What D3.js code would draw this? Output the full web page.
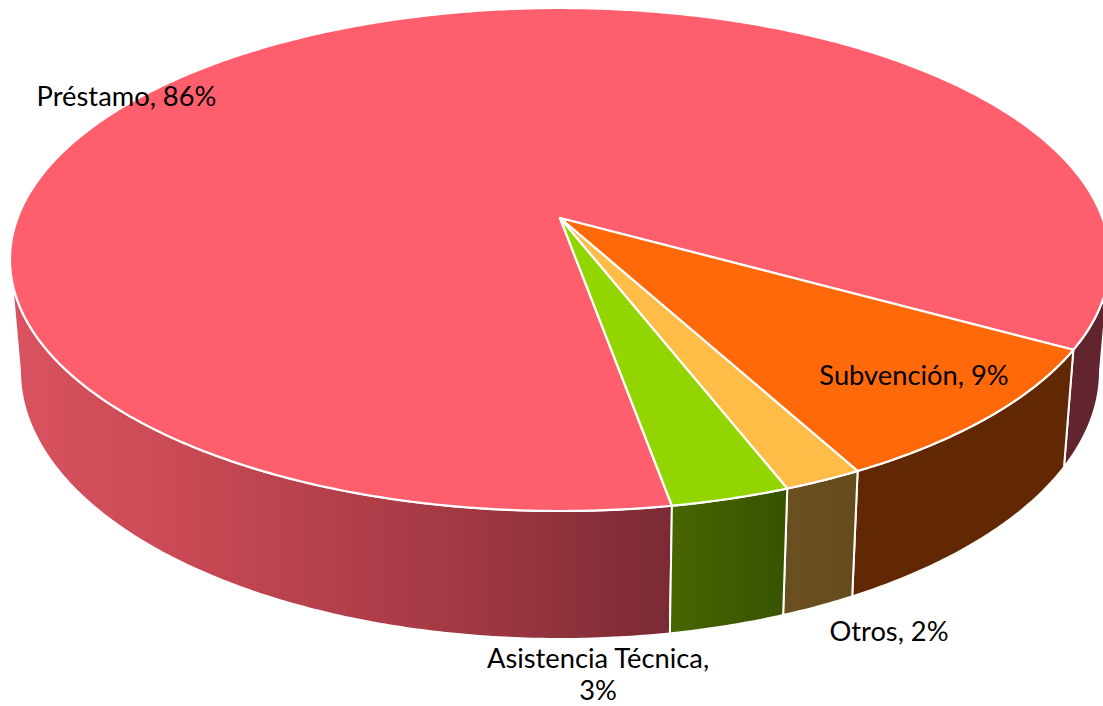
<!DOCTYPE html>
<html>
<head>
<meta charset="utf-8">
<script src="https://cdn.jsdelivr.net/npm/d3@7"></script>
<style>
    html, body { margin: 0; background: #fff; overflow: hidden; }
    text { font-family: Lato, "Open Sans", sans-serif; font-size: 27.3px; fill: #000; }
</style>
</head>
<body>
<svg width="1103" height="706"></svg>
<script>
const categories = ["Préstamo", "Subvención", "Otros", "Asistencia Técnica"];
const values = [86, 9, 2, 3];
const topColors = ["#ff5e6c", "#ff690a", "#ffbc47", "#92d500"];
const wallColors = [
    ["#da5260", "#c94a55", "#b33f4a", "#9a3640", "#7a2a33"],
    ["#622804", "#622804"],
    ["#6a5020", "#644c1c"],
    ["#486600", "#375300"],
];
const sliverColor = "#62242e";

// label anchors, one per category
const labelX = [126.5, 914, 889, 598];
const labelY = [105.5, 384.5, 641, 668];

const lineHeight = 32;

// perspective: the pie centre does not sit at the centre of the ellipse
const tilt = -0.165;
const firstAngle = 170.05 * Math.PI / 180;
const step = Math.PI / 360;

// where the side of the drum leaves the top ellipse, left and right
const leftEdge = 260.5 * Math.PI / 180;
const rightEdge = 99.5 * Math.PI / 180;

const xTop = d3.scaleLinear().domain([-1, 1]).range([10, 1110]);
const yTop = d3.scaleLinear().domain([-1, 1]).range([8, 511]);
const xBottom = d3.scaleLinear().domain([-1, 1]).range([20, 1100]);
const yBottom = d3.scaleLinear().domain([-1, 1]).range([103, 639]);

const svg = d3.select("svg");

const pie = d3.pie()
    .sort(null)
    .startAngle(firstAngle)
    .endAngle(firstAngle + 2 * Math.PI);

const slices = pie(values);

function project(angle) {
    const u = Math.sin(angle);
    const v = -Math.cos(angle);
    const d = 1 + tilt * v;
    return [u * Math.sqrt(1 - tilt * tilt) / d, (v + tilt) / d];
}

const topPoint = a => { const p = project(a); return [xTop(p[0]), yTop(p[1])]; };
const bottomPoint = a => { const p = project(a); return [xBottom(p[0]), yBottom(p[1])]; };
const line = d3.line();

const arcAngles = (a0, a1) => d3.range(a0, a1, step).concat([a1]);

function wallPath(a0, a1) {
    const angles = arcAngles(a0, a1);
    return line(angles.map(topPoint).concat(angles.slice().reverse().map(bottomPoint))) + "Z";
}

const defs = svg.append("defs");
wallColors.forEach((colors, i) => {
    const g = defs.append("linearGradient").attr("id", "wall" + i);
    colors.forEach((c, j) => {
        g.append("stop").attr("offset", j / (colors.length - 1)).attr("stop-color", c);
    });
});

// walls: the big slice wraps behind the pie, so only its two visible ends get drawn
const walls = [];
slices.forEach((d, i) => {
    if (i === 0) {
        walls.push({ a0: d.startAngle, a1: leftEdge, fill: "url(#wall0)" });
        walls.push({ a0: rightEdge + 2 * Math.PI, a1: d.endAngle, fill: sliverColor });
    } else {
        walls.push({ a0: d.startAngle, a1: d.endAngle, fill: `url(#wall${i})` });
    }
});

svg.selectAll("path.wall")
    .data(walls)
    .enter()
    .append("path")
    .attr("class", "wall")
    .attr("d", d => wallPath(d.a0, d.a1))
    .attr("fill", d => d.fill)
    .attr("stroke", "#fff")
    .attr("stroke-width", 2)
    .attr("stroke-linejoin", "round");

svg.selectAll("path.slice")
    .data(slices)
    .enter()
    .append("path")
    .attr("class", "slice")
    .attr("d", d => {
        const centre = [xTop(0), yTop(tilt)];
        return line([centre].concat(arcAngles(d.startAngle, d.endAngle).map(topPoint))) + "Z";
    })
    .attr("fill", (d, i) => topColors[i])
    .attr("stroke", "#fff")
    .attr("stroke-width", 2.2)
    .attr("stroke-linejoin", "round");

const labels = svg.selectAll("text.label")
    .data(categories)
    .enter()
    .append("text")
    .attr("class", "label")
    .attr("text-anchor", "middle")
    .attr("x", (d, i) => labelX[i])
    .attr("y", (d, i) => labelY[i]);

labels.each(function(d, i) {
    const el = d3.select(this);
    // the long label wraps before its value
    if (d.length > 15) {
        el.append("tspan").attr("x", labelX[i]).text(d + ",");
        el.append("tspan").attr("x", labelX[i]).attr("dy", lineHeight).text(values[i] + "%");
    } else {
        el.text(`${d}, ${values[i]}%`);
    }
});
</script>
</body>
</html>
